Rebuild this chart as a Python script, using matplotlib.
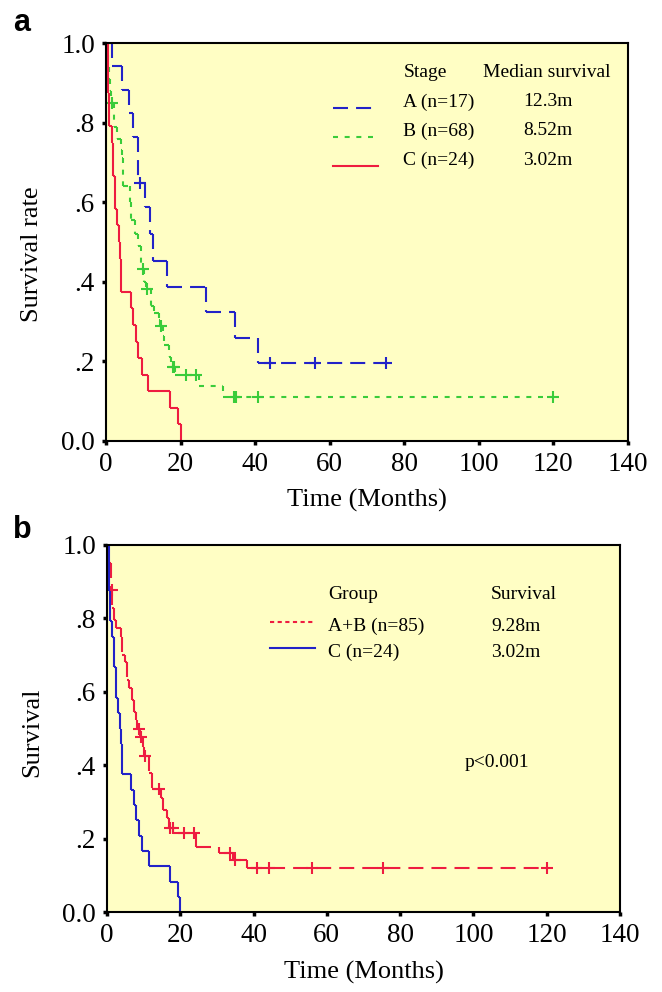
import numpy as np
import matplotlib
matplotlib.use('Agg')
import matplotlib.pyplot as plt
from matplotlib.collections import LineCollection

plt.rcParams['font.family'] = ['Liberation Serif', 'DejaVu Serif']
plt.rcParams['lines.scale_dashes'] = False

# Kaplan-Meier steps: event times (months) and survival after each event
a_times = [0, 1.5, 4.4, 6.2, 7.3, 8.5, 10.5, 11.8, 12.5, 16.3, 26.9, 34.7, 40.8]
a_surv = [1.0, 0.941, 0.882, 0.824, 0.765, 0.647, 0.588, 0.520, 0.452, 0.386, 0.324, 0.258, 0.195]
a_cens = [9.0, 44.1, 56.0, 75.2]

b_times = [0, 0.2, 0.5, 0.8, 1.0, 1.3, 2.2, 2.9, 4.0, 4.4, 4.6, 6.4, 6.6, 7.8, 8.5, 9.3,
           10.3, 10.8, 12.0, 13.0, 14.3, 14.5, 15.2, 15.6, 16.8, 17.5, 18.5, 25.1, 31.3]
b_surv = [1.0, 0.97, 0.94, 0.91, 0.88, 0.85, 0.79, 0.76, 0.73, 0.71, 0.64, 0.60, 0.555, 0.52, 0.49, 0.433,
          0.40, 0.383, 0.339, 0.322, 0.305, 0.288, 0.265, 0.241, 0.212, 0.186, 0.166, 0.139, 0.111]
b_cens = [1.5, 9.8, 11.1, 14.7, 17.9, 18.3, 21.4, 24.2, 34.4, 34.9, 40.8, 120.1]

c_times = [0, 0.5, 0.9, 1.5, 2.0, 2.4, 3.0, 3.6, 3.8, 4.0, 6.6, 7.3, 8.0, 8.7, 9.6, 11.4, 17.2, 19.3, 20.0]
c_surv = [1.0, 0.875, 0.792, 0.75, 0.667, 0.583, 0.542, 0.5, 0.458, 0.375, 0.333, 0.292, 0.25, 0.208,
          0.167, 0.125, 0.083, 0.042, 0.0]
c_cens = []

ab_times = [0, 0.3, 1.0, 1.5, 1.9, 2.4, 3.8, 4.1, 4.9, 5.5, 6.0, 6.7, 7.3, 7.8, 8.3, 9.0, 9.8, 10.2,
            11.4, 12.3, 14.8, 15.4, 16.3, 17.0, 18.0, 24.2, 30.7, 34.3, 38.2]
ab_surv = [1.0, 0.95, 0.877, 0.828, 0.796, 0.774, 0.75, 0.70, 0.68, 0.632, 0.61, 0.578, 0.546, 0.523,
           0.50, 0.477, 0.45, 0.425, 0.378, 0.334, 0.31, 0.278, 0.255, 0.23, 0.214, 0.178, 0.162, 0.142, 0.119]
ab_cens = [1.3, 8.7, 9.3, 10.5, 14.1, 17.2, 17.9, 20.9, 23.8, 33.7, 35.0, 40.8, 44.1, 56.0, 75.2, 120.0]

stage_rows = ['A (n=17)', 'B (n=68)', 'C (n=24)']
stage_median = ['12.3m', '8.52m', '3.02m']
group_rows = ['A+B (n=85)', 'C (n=24)']
group_median = ['9.28m', '3.02m']

BG = '#fffec4'
BLUE = '#2222c8'
GREEN = '#3acc3a'
RED = '#ee1c40'
LONG_DASH = (10.8, 5.8)
SHORT_DASH = (3.6, 4.8)


def step_segments(times, surv, end):
    segs = []
    for i in range(len(times)):
        t0 = times[i]
        t1 = times[i + 1] if i + 1 < len(times) else end
        if t1 > t0:
            segs.append([(t0, surv[i]), (t1, surv[i])])
        if i + 1 < len(times):
            segs.append([(t1, surv[i]), (t1, surv[i + 1])])
    return segs


def draw_curve(ax, times, surv, cens, color, dashes):
    end = max([times[-1]] + list(cens))
    ls = '-' if dashes is None else (0, dashes)
    lc = LineCollection(step_segments(times, surv, end), colors=color,
                        linewidths=1.5, linestyles=[ls])
    ax.add_collection(lc)
    if cens:
        idx = np.searchsorted(times, cens, side='right') - 1
        ax.plot(cens, np.asarray(surv)[idx], '+', color=color, ms=9, mew=1.5, ls='none')


def style_axes(ax, ylabel, ylab_pos, xlab_y):
    ax.set_facecolor(BG)
    ax.set_xlim(0, 140)
    ax.set_ylim(0, 1)
    ax.set_xticks(range(0, 141, 20))
    ax.set_yticks([0, 0.2, 0.4, 0.6, 0.8, 1.0])
    ax.set_yticklabels(['0.0', '.2', '.4', '.6', '.8', '1.0'])
    ax.tick_params(direction='out', length=3, width=2.5, labelsize=19.5, pad=5)
    for s in ax.spines.values():
        s.set_linewidth(1.5)
    ax.set_xlabel('Time (Months)', fontsize=19)
    ax.set_ylabel(ylabel, fontsize=19)
    ax.xaxis.set_label_coords(0.5, xlab_y)
    ax.yaxis.set_label_coords(*ylab_pos)


def legend_key(ax, x0, x1, y, color, dashes):
    ls = '-' if dashes is None else (0, dashes)
    ax.plot([x0, x1], [y, y], color=color, lw=1.5, ls=ls, transform=ax.transAxes, clip_on=False)


fig = plt.figure(figsize=(6.62, 9.92), dpi=100)
ax_a = fig.add_axes([106 / 662, 1 - 441 / 992, 521.5 / 662, 398 / 992])
ax_b = fig.add_axes([107 / 662, 1 - 912 / 992, 513 / 662, 367 / 992])

# panel a: by stage
draw_curve(ax_a, a_times, a_surv, a_cens, BLUE, LONG_DASH)
draw_curve(ax_a, b_times, b_surv, b_cens, GREEN, SHORT_DASH)
draw_curve(ax_a, c_times, c_surv, c_cens, RED, None)
style_axes(ax_a, 'Survival rate', (-0.121, 0.47), -0.120)

ax_a.text(0.570, 0.925, 'Stage', transform=ax_a.transAxes, fontsize=14, va='center')
ax_a.text(0.723, 0.925, 'Median survival', transform=ax_a.transAxes, fontsize=14, va='center')
row_y = [0.852, 0.779, 0.706]
key_styles = [(BLUE, LONG_DASH), (GREEN, SHORT_DASH), (RED, None)]
for label, med, y, (col, dsh) in zip(stage_rows, stage_median, row_y, key_styles):
    ax_a.text(0.570, y, label, transform=ax_a.transAxes, fontsize=14, va='center')
    ax_a.text(0.800, y, med, transform=ax_a.transAxes, fontsize=14, va='center')
    legend_key(ax_a, 0.435, 0.522, y - 0.015, col, dsh)

# panel b: A+B vs C
draw_curve(ax_b, ab_times, ab_surv, ab_cens, RED, LONG_DASH)
draw_curve(ax_b, c_times, c_surv, c_cens, BLUE, None)
style_axes(ax_b, 'Survival', (-0.125, 0.49), -0.133)

ax_b.text(0.431, 0.864, 'Group', transform=ax_b.transAxes, fontsize=14, va='center')
ax_b.text(0.749, 0.864, 'Survival', transform=ax_b.transAxes, fontsize=14, va='center')
row_y = [0.779, 0.708]
key_styles = [(RED, (3.0, 2.5)), (BLUE, None)]
for label, med, y, (col, dsh) in zip(group_rows, group_median, row_y, key_styles):
    ax_b.text(0.431, y, label, transform=ax_b.transAxes, fontsize=14, va='center')
    ax_b.text(0.749, y, med, transform=ax_b.transAxes, fontsize=14, va='center')
    legend_key(ax_b, 0.317, 0.406, y + 0.012, col, dsh)
ax_b.text(0.698, 0.406, 'p<0.001', transform=ax_b.transAxes, fontsize=14, va='center')

fig.text(13 / 662, 1 - 31 / 992, 'a', family='Liberation Sans', weight='bold', fontsize=22, va='baseline')
fig.text(13 / 662, 1 - 538 / 992, 'b', family='Liberation Sans', weight='bold', fontsize=22, va='baseline')

fig.savefig('out.png', dpi=100, facecolor='white')
